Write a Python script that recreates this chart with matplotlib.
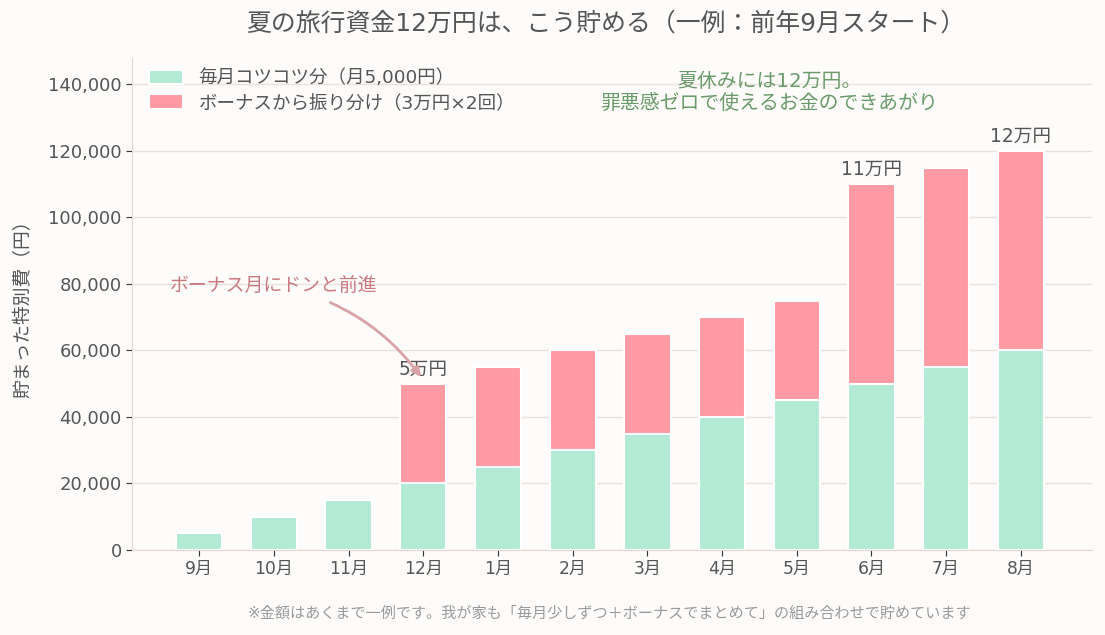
import matplotlib.pyplot as plt
import numpy as np

plt.rcParams['font.family'] = ['DejaVu Sans', 'Noto Sans CJK JP']

months = ["9月", "10月", "11月", "12月", "1月", "2月", "3月", "4月", "5月", "6月", "7月", "8月"]
monthly = [5000, 10000, 15000, 20000, 25000, 30000, 35000, 40000, 45000, 50000, 55000, 60000]
bonus = [0, 0, 0, 30000, 30000, 30000, 30000, 30000, 30000, 60000, 60000, 60000]
milestones = {3: "5万円", 9: "11万円", 11: "12万円"}

bg = "#fdfcfb"
green = "#b3ead6"
pink = "#ff9aa2"
text_col = "#555555"

fig = plt.figure(figsize=(11.05, 6.35), dpi=100, facecolor=bg)
ax = fig.add_axes([0.1195, 0.134, 0.8685, 0.775], facecolor=bg)

x = np.arange(len(months))
ax.bar(x, monthly, width=0.62, color=green, edgecolor="white", linewidth=1.5,
       label="毎月コツコツ分（月5,000円）", zorder=3)
ax.bar(x, bonus, width=0.62, bottom=monthly, color=pink, edgecolor="white", linewidth=1.5,
       label="ボーナスから振り分け（3万円×2回）", zorder=3)

totals = [m + b for m, b in zip(monthly, bonus)]
for i, lab in milestones.items():
    ax.text(i, totals[i] + 1500, lab, ha="center", va="bottom", fontsize=13.4, color=text_col)

ax.set_xlim(-0.9, 11.95)
ax.set_ylim(0, 148000)
ax.set_xticks(x)
ax.set_xticklabels(months)
ax.set_yticks(np.arange(0, 140001, 20000))
ax.yaxis.set_major_formatter(plt.FuncFormatter(lambda v, p: f"{int(v):,}"))
ax.tick_params(colors=text_col)
ax.tick_params(axis="x", color="#333333", length=4, labelsize=12.3)
ax.tick_params(axis="y", color="#333333", length=4, labelsize=13)
ax.grid(axis="y", color="#e9e1dc", linewidth=1, zorder=0)

for s in ["top", "right"]:
    ax.spines[s].set_visible(False)
for s in ["left", "bottom"]:
    ax.spines[s].set_color("#e2d6cf")

ax.set_ylabel("貯まった特別費（円）", fontsize=13.5, color=text_col, labelpad=11)
fig.text(0.548, 0.963, "夏の旅行資金12万円は、こう貯める（一例：前年9月スタート）",
         ha="center", va="center", fontsize=17.9, color=text_col)

ax.legend(loc="upper left", frameon=False, fontsize=13.3, labelcolor=text_col,
          handlelength=1.85, handleheight=0.8, handletextpad=0.85, labelspacing=0.35,
          bbox_to_anchor=(0.0, 1.01))

ax.text(0.664, 0.93, "夏休みには12万円。\n罪悪感ゼロで使えるお金のできあがり", transform=ax.transAxes,
        ha="center", va="center", fontsize=14.3, color="#6b9a6b", linespacing=1.15)

ax.annotate("ボーナス月にドンと前進", xy=(2.97, 52000), xytext=(1.0, 79500),
            ha="center", va="center", fontsize=13.6, color="#c97a80",
            arrowprops=dict(arrowstyle="-|>", color="#d9a2a6", lw=2,
                            connectionstyle="arc3,rad=-0.2", shrinkA=9, shrinkB=0))

fig.text(0.551, 0.034, "※金額はあくまで一例です。我が家も「毎月少しずつ＋ボーナスでまとめて」の組み合わせで貯めています",
         ha="center", va="center", fontsize=10.9, color="#9a9a9a")

fig.savefig("out.png", dpi=100, facecolor=bg)
